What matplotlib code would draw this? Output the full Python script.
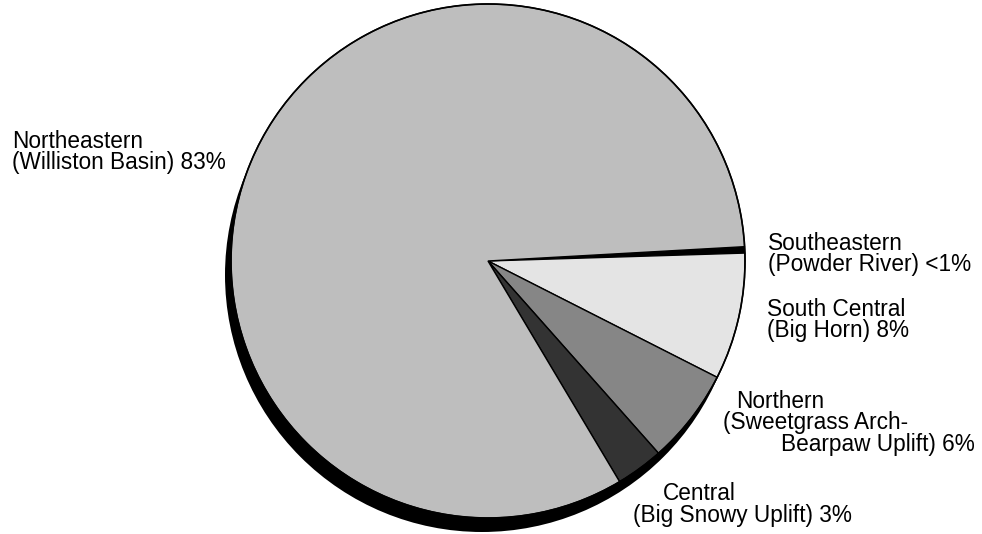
import matplotlib
matplotlib.use("Agg")
import matplotlib.pyplot as plt
from matplotlib.patches import Circle

# pie data (percent of production by region)
regions = ["Southeastern", "South Central", "Northern", "Central", "Northeastern"]
shares = [0.4, 8, 6, 3, 83]
colors = ["#000000", "#e4e4e4", "#868686", "#333333", "#bebebe"]

label_lines = [
    # (text, x, y_from_top, ha)
    ("Northeastern", 12, 148, "left"),
    ("(Williston Basin) 83%", 12, 169, "left"),
    ("Southeastern", 768, 250, "left"),
    ("(Powder River) <1%", 768, 271, "left"),
    ("South Central", 767, 316, "left"),
    ("(Big Horn) 8%", 767, 337, "left"),
    ("Northern", 736, 408, "left"),
    ("(Sweetgrass Arch-", 723, 429, "left"),
    ("Bearpaw Uplift) 6%", 975, 451, "right"),
    ("Central", 663, 500, "left"),
    ("(Big Snowy Uplift) 3%", 633, 522, "left"),
]

W, H = 982, 534
fig = plt.figure(figsize=(W / 100, H / 100), dpi=100, facecolor="white")
ax = fig.add_axes([0, 0, 1, 1])

cx, cy, r = 488, H - 261, 257

# drop shadow to the lower left
ax.add_patch(Circle((cx - 6, cy - 14), r, facecolor="black", edgecolor="none", zorder=1))

wedges, _ = ax.pie(shares, colors=colors, startangle=3.2, counterclock=False,
                   center=(cx, cy), radius=r, frame=True,
                   wedgeprops=dict(edgecolor="black", linewidth=1.0))
for w in wedges:
    w.set_zorder(2)
ax.add_patch(Circle((cx, cy), r, facecolor="none", edgecolor="black", linewidth=1.2, zorder=3))
ax.set_xlim(0, W)
ax.set_ylim(0, H)
ax.set_aspect("equal")
ax.axis("off")

for txt, x, y, ha in label_lines:
    ax.text(x, H - y, txt, ha=ha, va="baseline", fontsize=16.3,
            family="Liberation Sans", color="black")

plt.savefig("out.png", dpi=100, facecolor="white")
